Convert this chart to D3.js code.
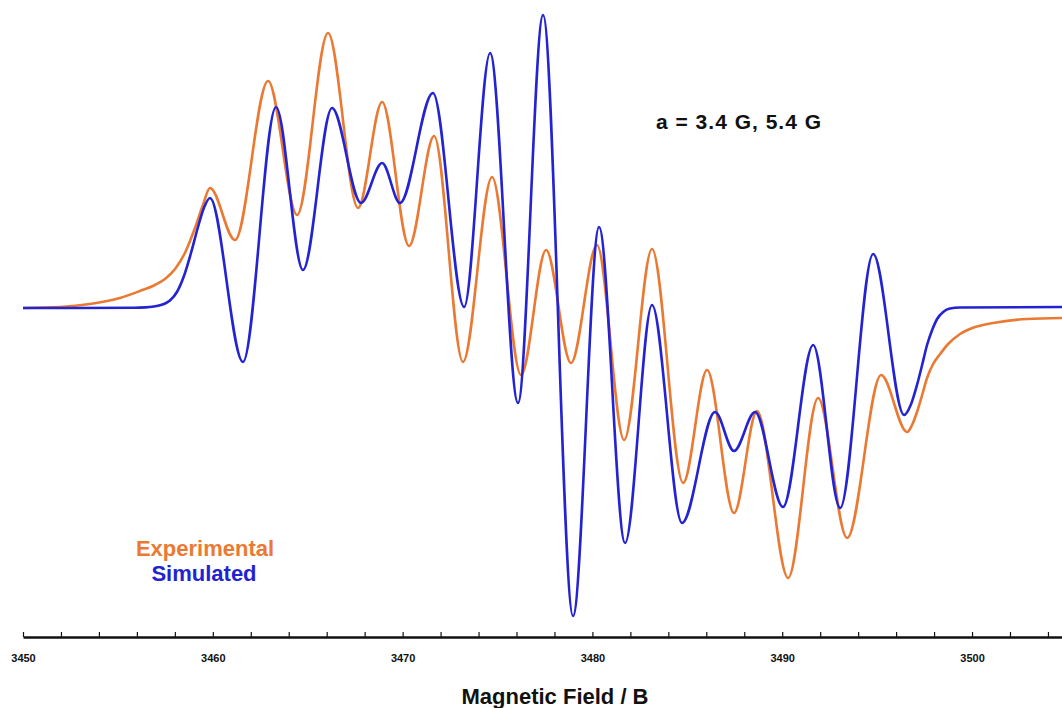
<!DOCTYPE html>
<html><head><meta charset="utf-8">
<script src="https://cdn.jsdelivr.net/npm/d3@7"></script>
<style>body{margin:0;background:#fff}svg{display:block}</style>
</head><body>
<svg id="chart" width="1062" height="708"></svg>
<script>
// Magnetic field (G) and intensity (a.u.)
const fieldExperimental = [3450.00,3451.95,3453.53,3455.11,3456.16,3456.95,3457.48,3458.01,3458.53,3459.06,3459.48,3459.85,3461.17,3462.91,3464.44,3466.07,3467.65,3468.92,3470.34,3471.66,3473.18,3474.71,3476.24,3477.56,3478.87,3480.24,3481.67,3483.14,3484.78,3486.04,3487.46,3488.67,3490.31,3491.89,3493.42,3495.21,3496.58,3496.84,3497.10,3497.37,3497.63,3497.95,3498.32,3498.74,3499.37,3500.16,3501.11,3502.90,3504.74];
const intensityExperimental = [0.00,0.01,0.04,0.10,0.17,0.23,0.29,0.39,0.55,0.80,1.03,1.20,0.68,2.27,0.93,2.75,1.00,2.06,0.62,1.72,-0.54,1.31,-0.67,0.58,-0.55,0.63,-1.32,0.59,-1.75,-0.62,-2.05,-1.03,-2.70,-0.90,-2.30,-0.67,-1.24,-1.17,-1.04,-0.87,-0.70,-0.56,-0.46,-0.36,-0.26,-0.19,-0.15,-0.11,-0.10];
const fieldSimulated = [3450.00,3455.90,3456.43,3456.80,3457.11,3457.38,3457.74,3458.11,3458.48,3458.85,3459.22,3459.53,3459.85,3461.59,3463.33,3464.75,3466.28,3467.81,3468.92,3469.86,3471.60,3473.24,3474.61,3476.08,3477.40,3478.98,3480.35,3481.72,3483.14,3484.72,3486.46,3487.46,3488.57,3490.04,3491.63,3493.05,3494.79,3496.42,3496.79,3497.10,3497.37,3497.63,3497.90,3498.16,3498.48,3498.84,3499.37,3504.74];
const intensitySimulated = [0.00,0.002,0.006,0.012,0.022,0.037,0.075,0.16,0.32,0.55,0.81,1.00,1.10,-0.54,2.01,0.38,2.00,1.05,1.45,1.05,2.15,0.01,2.55,-0.95,2.93,-3.08,0.81,-2.35,0.03,-2.15,-1.04,-1.43,-1.04,-1.99,-0.37,-2.00,0.54,-1.07,-0.96,-0.77,-0.57,-0.37,-0.22,-0.11,-0.04,-0.005,0.005,0.01];
const tickValuesMinor = d3.range(3450, 3505, 2);
const tickLabels = [3450, 3460, 3470, 3480, 3490, 3500];
const seriesNames = ["Experimental", "Simulated"];
const seriesColors = ["#EA7A33", "#2323D2"];
const annotation = "a = 3.4 G, 5.4 G";
const xTitle = "Magnetic Field / B";

const svg = d3.select("#chart");
const x = d3.scaleLinear().domain([3450, 3504.74]).range([23, 1062]);
const y = d3.scaleLinear().domain([-3.30, 3.08]).range([638, 0]);

const line = d3.line().x(d => x(d[0])).y(d => y(d[1])).curve(d3.curveMonotoneX);
const expData = d3.zip(fieldExperimental, intensityExperimental);
const simData = d3.zip(fieldSimulated, intensitySimulated);

svg.append("path").attr("d", line(expData)).attr("fill", "none")
  .attr("stroke", seriesColors[0]).attr("stroke-width", 2.6).attr("stroke-linejoin", "round");
svg.append("path").attr("d", line(simData)).attr("fill", "none")
  .attr("stroke", seriesColors[1]).attr("stroke-width", 2.6).attr("stroke-linejoin", "round");

// axis
const axis = d3.axisBottom(x).tickValues(tickValuesMinor)
  .tickSizeInner(-5).tickSizeOuter(0).tickPadding(17)
  .tickFormat(d => tickLabels.includes(d) ? d : "");
const gx = svg.append("g").attr("transform", "translate(0,637)").call(axis);
gx.select(".domain").attr("stroke", "#111").attr("stroke-width", 2.5);
gx.selectAll(".tick line").attr("stroke", "#111").attr("stroke-width", 1.2);
gx.selectAll(".tick text").attr("fill", "#111")
  .style("font-family", "'Liberation Sans Narrow','Arial Narrow',sans-serif")
  .style("font-weight", "bold").style("font-size", "11px");

svg.append("text").attr("x", 555).attr("y", 704).attr("text-anchor", "middle")
  .style("font-family", "'Liberation Sans',Arial,sans-serif").style("font-weight", "bold")
  .style("font-size", "22px").attr("fill", "#111").text(xTitle);

svg.append("text").attr("x", 656).attr("y", 129)
  .style("font-family", "'Liberation Sans',Arial,sans-serif").style("font-weight", "bold")
  .style("font-size", "21px").style("letter-spacing", "1px").attr("fill", "#111").text(annotation);

svg.append("text").attr("x", 205).attr("y", 556).attr("text-anchor", "middle")
  .style("font-family", "'Liberation Sans',Arial,sans-serif").style("font-weight", "bold")
  .style("font-size", "22px").attr("fill", seriesColors[0]).text(seriesNames[0]);
svg.append("text").attr("x", 204).attr("y", 581).attr("text-anchor", "middle")
  .style("font-family", "'Liberation Sans',Arial,sans-serif").style("font-weight", "bold")
  .style("font-size", "22px").attr("fill", seriesColors[1]).text(seriesNames[1]);
</script>
</body></html>
